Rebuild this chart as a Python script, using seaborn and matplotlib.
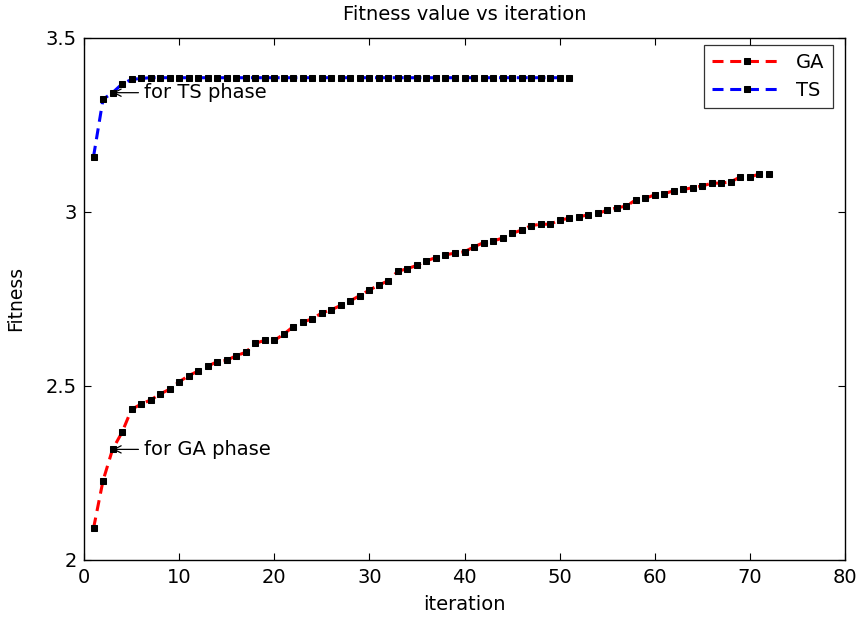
import matplotlib
matplotlib.use("Agg")
import matplotlib.pyplot as plt
import seaborn as sns
import pandas as pd

iter_ga = list(range(1, 73))
fitness_ga = [2.090, 2.227, 2.317, 2.366, 2.432, 2.447, 2.459, 2.476, 2.490, 2.511,
              2.529, 2.542, 2.556, 2.569, 2.573, 2.586, 2.596, 2.622, 2.630, 2.630,
              2.648, 2.670, 2.683, 2.692, 2.709, 2.718, 2.731, 2.744, 2.759, 2.775,
              2.789, 2.802, 2.829, 2.836, 2.846, 2.859, 2.868, 2.876, 2.881, 2.885,
              2.899, 2.911, 2.916, 2.924, 2.938, 2.947, 2.960, 2.964, 2.964, 2.976,
              2.981, 2.985, 2.991, 2.995, 3.004, 3.011, 3.016, 3.034, 3.039, 3.048,
              3.052, 3.060, 3.064, 3.069, 3.074, 3.082, 3.082, 3.086, 3.100, 3.100,
              3.108, 3.108]
iter_ts = list(range(1, 52))
fitness_ts = [3.158, 3.323, 3.342, 3.367, 3.380, 3.383, 3.385, 3.385, 3.385, 3.385,
              3.385, 3.385, 3.385, 3.385, 3.385, 3.385, 3.385, 3.385, 3.385, 3.385,
              3.385, 3.385, 3.385, 3.385, 3.385, 3.385, 3.385, 3.385, 3.385, 3.385,
              3.385, 3.385, 3.385, 3.385, 3.385, 3.385, 3.385, 3.385, 3.385, 3.385,
              3.385, 3.385, 3.385, 3.385, 3.385, 3.385, 3.385, 3.385, 3.385, 3.385,
              3.385]
series_names = ["GA", "TS"]
series_colors = ["#ff0000", "#0000ff"]
x_ticks = [0, 10, 20, 30, 40, 50, 60, 70, 80]
y_ticks = [2, 2.5, 3, 3.5]
y_tick_labels = ["2", "2.5", "3", "3.5"]

sns.set_theme(style="ticks")
plt.rcParams["font.family"] = ["DejaVu Sans"]
plt.rcParams["xtick.direction"] = "in"
plt.rcParams["ytick.direction"] = "in"
plt.rcParams["text.color"] = "black"
plt.rcParams["axes.labelcolor"] = "black"
plt.rcParams["xtick.color"] = "black"
plt.rcParams["ytick.color"] = "black"

FS = 14.0

df_ga = pd.DataFrame({"iteration": iter_ga, "Fitness": fitness_ga})
df_ts = pd.DataFrame({"iteration": iter_ts, "Fitness": fitness_ts})

fig = plt.figure(figsize=(8.58, 6.18), dpi=100)
ax = fig.add_axes([84 / 858, 1 - 559.7 / 618, (845 - 84) / 858, (559.7 - 37.7) / 618])

for df, name, col in zip([df_ga, df_ts], series_names, series_colors):
    sns.lineplot(data=df, x="iteration", y="Fitness", ax=ax, color=col,
                 linestyle=(0, (3.6, 2.2)), linewidth=2.2, marker="s", markersize=5,
                 markerfacecolor="black", markeredgecolor="black", label=name)

ax.set_xlim(0, 80)
ax.set_ylim(2, 3.5)
ax.set_xticks(x_ticks)
ax.set_yticks(y_ticks)
ax.set_yticklabels(y_tick_labels)
ax.tick_params(axis="both", labelsize=FS, length=5, width=0.8, color="black",
               top=True, right=True, labelcolor="black")
ax.tick_params(axis="x", pad=6)
ax.tick_params(axis="y", pad=5)
for s in ax.spines.values():
    s.set_color("black")
    s.set_linewidth(1.0)

ax.set_title("Fitness value vs iteration", fontsize=14, pad=13)
ax.set_xlabel("iteration", fontsize=FS, labelpad=6)
ax.set_ylabel("Fitness", fontsize=13.5, labelpad=15)

ax.annotate("for TS phase", xy=(iter_ts[2], fitness_ts[2]), xytext=(23, 0),
            textcoords="offset points", va="center", ha="left", fontsize=FS,
            arrowprops=dict(arrowstyle="->", color="black", lw=0.9, shrinkA=2, shrinkB=0,
                            mutation_scale=13))
ax.annotate("for GA phase", xy=(iter_ga[2], fitness_ga[2]), xytext=(23, 0),
            textcoords="offset points", va="center", ha="left", fontsize=FS,
            arrowprops=dict(arrowstyle="->", color="black", lw=0.9, shrinkA=2, shrinkB=0,
                            mutation_scale=13))

leg = ax.legend(loc="upper right", fontsize=FS, frameon=True, fancybox=False,
                edgecolor="black", handlelength=3.6, handletextpad=0.75,
                borderpad=0.42, labelspacing=0.45, borderaxespad=0,
                bbox_to_anchor=((833 - 84) / 761, 1 - 7 / 522))
leg.get_frame().set_linewidth(0.9)

fig.savefig("out.png", dpi=100)
